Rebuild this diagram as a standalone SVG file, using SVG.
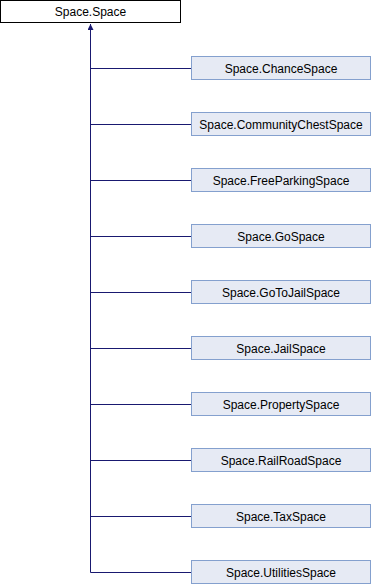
<svg xmlns="http://www.w3.org/2000/svg" width="372" height="584" viewBox="0 0 372 584">
  <style>
    .base rect { fill: #ffffff; stroke: #000000; stroke-width: 1; }
    .node rect { fill: #e6eaf4; stroke: #84a0ce; stroke-width: 1; }
    text { font-family: "Liberation Sans", Arial, sans-serif; font-size: 12px; fill: #000000; text-anchor: middle; }
    .edge { fill: none; stroke: #191970; stroke-width: 1; }
  </style>
  <defs>
    <marker id="arrow" viewBox="0 0 10 10" refX="10" refY="5" markerWidth="8" markerHeight="6" orient="auto" markerUnits="userSpaceOnUse">
      <path d="M0,0 L10,5 L0,10 Z" fill="#191970"/>
    </marker>
  </defs>

  <rect width="372" height="584" fill="#ffffff"/>

  <!-- inheritance connectors -->
  <g id="edges">
    <path class="edge" d="M90.5,572.5 V24" marker-end="url(#arrow)"/>
    <path class="edge" d="M90.5,68.5 H191"/>
    <path class="edge" d="M90.5,124.5 H191"/>
    <path class="edge" d="M90.5,180.5 H191"/>
    <path class="edge" d="M90.5,236.5 H191"/>
    <path class="edge" d="M90.5,292.5 H191"/>
    <path class="edge" d="M90.5,348.5 H191"/>
    <path class="edge" d="M90.5,404.5 H191"/>
    <path class="edge" d="M90.5,460.5 H191"/>
    <path class="edge" d="M90.5,516.5 H191"/>
    <path class="edge" d="M90.5,572.5 H191"/>
  </g>

  <g id="Space.Space" class="base">
    <rect x="0.5" y="0.5" width="180" height="22"/>
    <text x="90.5" y="16">Space.Space</text>
  </g>
  <g id="Space.ChanceSpace" class="node">
    <rect x="191.5" y="56.5" width="179" height="23"/>
    <text x="281" y="72.5">Space.ChanceSpace</text>
  </g>
  <g id="Space.CommunityChestSpace" class="node">
    <rect x="191.5" y="112.5" width="179" height="23"/>
    <text x="281" y="128.5">Space.CommunityChestSpace</text>
  </g>
  <g id="Space.FreeParkingSpace" class="node">
    <rect x="191.5" y="168.5" width="179" height="23"/>
    <text x="281" y="184.5">Space.FreeParkingSpace</text>
  </g>
  <g id="Space.GoSpace" class="node">
    <rect x="191.5" y="224.5" width="179" height="23"/>
    <text x="281" y="240.5">Space.GoSpace</text>
  </g>
  <g id="Space.GoToJailSpace" class="node">
    <rect x="191.5" y="280.5" width="179" height="23"/>
    <text x="281" y="296.5">Space.GoToJailSpace</text>
  </g>
  <g id="Space.JailSpace" class="node">
    <rect x="191.5" y="336.5" width="179" height="23"/>
    <text x="281" y="352.5">Space.JailSpace</text>
  </g>
  <g id="Space.PropertySpace" class="node">
    <rect x="191.5" y="392.5" width="179" height="23"/>
    <text x="281" y="408.5">Space.PropertySpace</text>
  </g>
  <g id="Space.RailRoadSpace" class="node">
    <rect x="191.5" y="448.5" width="179" height="23"/>
    <text x="281" y="464.5">Space.RailRoadSpace</text>
  </g>
  <g id="Space.TaxSpace" class="node">
    <rect x="191.5" y="504.5" width="179" height="23"/>
    <text x="281" y="520.5">Space.TaxSpace</text>
  </g>
  <g id="Space.UtilitiesSpace" class="node">
    <rect x="191.5" y="560.5" width="179" height="23"/>
    <text x="281" y="576.5">Space.UtilitiesSpace</text>
  </g>
</svg>
